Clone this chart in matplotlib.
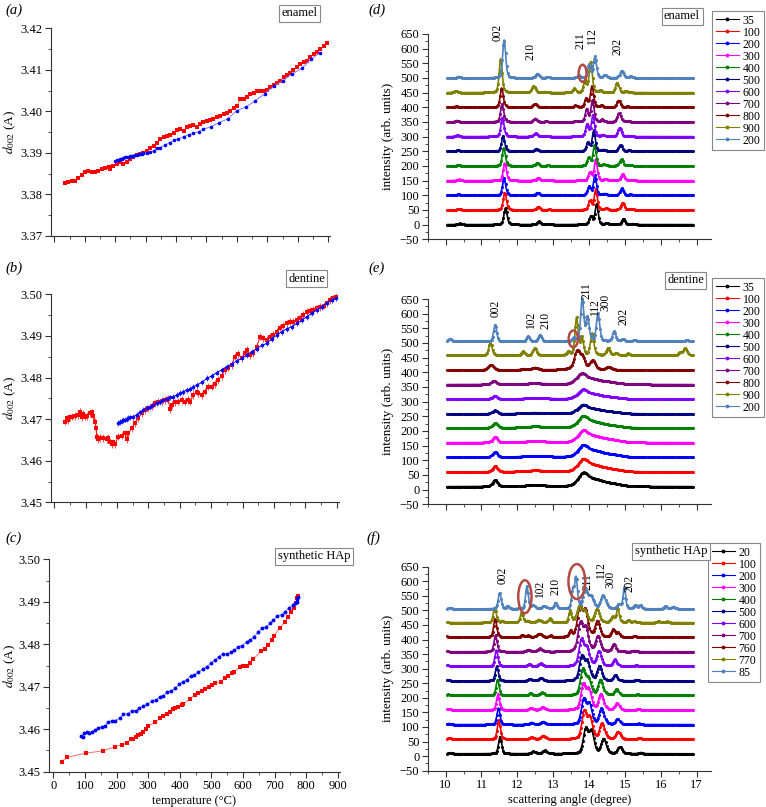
import numpy as np
import matplotlib
matplotlib.use('Agg')
import matplotlib.pyplot as plt
from matplotlib.patches import Ellipse
from matplotlib.lines import Line2D
from matplotlib.ticker import MultipleLocator, NullFormatter

plt.rcParams['font.family'] = ['Liberation Serif', 'DejaVu Serif']
plt.rcParams['mathtext.fontset'] = 'stix'

# ---------------- data: d002 vs temperature ----------------
a_red_T = [35,46,57,68,79,90,101,112,123,134,145,156,167,178,183,194,205,216,227,238,249,260,271,282,293,304,315,326,337,348,
           359,370,381,392,403,414,425,436,446,457,468,479,490,501,512,523,534,545,556,567,578,589,600,611,622,633,644,655,666,677,
           688,699,710,721,732,743,754,764,775,786,797,808,819,830,841,852,863,874,885,896]
a_red_d = [3.3828,3.3831,3.3832,3.3833,3.3840,3.3846,3.3853,3.3857,3.3855,3.3853,3.3857,3.3861,3.3863,3.3865,3.3861,
           3.3869,3.3873,3.3877,3.3873,3.3879,3.3885,3.3889,3.3895,3.3897,3.3901,3.3905,3.3911,3.3917,3.3923,3.3933,
           3.3939,3.3941,3.3944,3.3947,3.3954,3.3957,3.3953,3.3962,3.3965,3.3967,3.3963,3.3970,3.3975,3.3978,3.3979,
           3.3981,3.3986,3.3989,3.3994,3.3997,3.4002,3.4007,3.4013,3.4029,3.4031,3.4034,3.4042,3.4045,3.4048,3.4050,
           3.4048,3.4051,3.4058,3.4064,3.4069,3.4074,3.4082,3.4088,3.4093,3.4100,3.4108,3.4114,3.4120,3.4122,3.4130,
           3.4138,3.4144,3.4149,3.4157,3.4165]
a_blue_T = [200,205,211,216,222,227,233,238,244,249,255,260,266,271,277,282,288,293,304,315,326,337,348,364,379,392,408,425,
            441,457,474,490,514,542,570,600,631,660,691,721,750,781,814,843,872]
a_blue_d = [3.3881,3.3883,3.3884,3.3885,3.3886,3.3888,3.3889,3.3890,3.3891,3.3892,3.3893,3.3893,3.3894,3.3896,3.3897,
            3.3897,3.3898,3.3899,3.3901,3.3902,3.3905,3.3913,3.3913,3.3919,3.3925,3.3930,3.3934,3.3939,3.3944,3.3947,
            3.3951,3.3957,3.3963,3.3973,3.3982,3.4002,3.4011,3.4026,3.4042,3.4060,3.4073,3.4090,3.4104,3.4125,3.4141]

b_red_T = [34,39,45,50,55,66,77,82,87,92,98,103,114,119,124,130,133,135,140,146,156,167,172,177,183,188,193,204,215,225,
           231,236,247,257,268,278,289,300,310,321,332,342,353,363,369,374,385,395,406,417,427,433,443,454,459,470,480,491,
           502,512,523,533,544,555,565,576,587,597,608,613,624,634,645,656,666,677,688,698,709,719,730,741,751,762,773,783,
           794,804,815,826,836,847,858,868,879,889,898]
b_red_d = [3.4694,3.4702,3.4698,3.4704,3.4706,3.4708,3.4710,3.4718,3.4704,3.4712,3.4706,3.4708,3.4714,3.4716,3.4708,
           3.4694,3.4678,3.4658,3.4652,3.4655,3.4655,3.4652,3.4654,3.4646,3.4639,3.4644,3.4639,3.4658,3.4660,3.4666,
           3.4652,3.4666,3.4678,3.4690,3.4702,3.4714,3.4722,3.4726,3.4732,3.4738,3.4742,3.4744,3.4746,3.4748,3.4724,
           3.4734,3.4740,3.4742,3.4746,3.4742,3.4746,3.4742,3.4758,3.4766,3.4762,3.4758,3.4766,3.4778,3.4778,3.4784,
           3.4794,3.4804,3.4818,3.4824,3.4830,3.4850,3.4856,3.4846,3.4858,3.4866,3.4854,3.4858,3.4874,3.4898,3.4894,
           3.4890,3.4898,3.4902,3.4910,3.4920,3.4925,3.4930,3.4933,3.4934,3.4938,3.4942,3.4950,3.4958,3.4960,3.4962,
           3.4966,3.4970,3.4973,3.4978,3.4986,3.4990,3.4994]
b_blue_T = [204,209,215,220,225,231,236,241,252,262,273,284,294,305,316,326,337,348,358,369,379,390,401,411,422,433,443,
            454,470,486,502,518,533,549,565,581,597,613,629,645,661,677,693,709,725,741,757,773,789,804,820,836,852,868,884,898]
b_blue_d = [3.4690,3.4694,3.4696,3.4698,3.4699,3.4700,3.4702,3.4704,3.4706,3.4710,3.4716,3.4722,3.4726,3.4730,3.4734,
            3.4738,3.4742,3.4746,3.4748,3.4752,3.4754,3.4758,3.4762,3.4766,3.4770,3.4772,3.4778,3.4782,3.4788,3.4798,
            3.4804,3.4812,3.4818,3.4826,3.4832,3.4840,3.4846,3.4854,3.4862,3.4869,3.4877,3.4882,3.4893,3.4902,3.4910,
            3.4917,3.4922,3.4930,3.4938,3.4946,3.4954,3.4962,3.4970,3.4978,3.4986,3.4990]
b_red_err = 0.0009
b_blue_err = 0.0007

c_red_T = [26,44,105,158,195,216,234,245,253,262,269,276,285,293,301,322,338,348,359,369,378,385,396,406,411,432,448,459,
           469,480,491,501,512,530,543,554,564,573,591,601,612,622,633,656,670,680,691,698,717,733,744,751,760,768,772,775]
c_red_d = [3.4524,3.4534,3.4544,3.4549,3.4559,3.4563,3.4568,3.4576,3.4577,3.4582,3.4586,3.4589,3.4594,3.4600,3.4608,
           3.4616,3.4626,3.4632,3.4635,3.4641,3.4647,3.4649,3.4653,3.4657,3.4659,3.4671,3.4681,3.4685,3.4690,3.4695,
           3.4699,3.4703,3.4708,3.4712,3.4721,3.4726,3.4732,3.4735,3.4747,3.4750,3.4749,3.4755,3.4765,3.4783,3.4790,
           3.4798,3.4810,3.4820,3.4839,3.4853,3.4865,3.4877,3.4885,3.4896,3.4908,3.4914]
c_blue_T = [87,93,98,106,114,121,132,142,153,164,174,185,195,211,222,237,248,262,272,285,298,311,325,338,348,361,372,385,
            398,409,422,435,446,459,473,485,498,512,524,536,548,561,573,585,598,612,622,635,649,659,673,686,696,709,723,734,
            747,757,765,770,772,774]
c_blue_d = [3.4585,3.4582,3.4590,3.4593,3.4590,3.4594,3.4598,3.4602,3.4606,3.4608,3.4618,3.4619,3.4620,3.4627,3.4635,
            3.4637,3.4643,3.4644,3.4649,3.4655,3.4659,3.4666,3.4669,3.4677,3.4679,3.4687,3.4690,3.4696,3.4706,3.4712,
            3.4716,3.4726,3.4728,3.4734,3.4742,3.4747,3.4755,3.4763,3.4771,3.4778,3.4776,3.4781,3.4786,3.4794,3.4797,
            3.4806,3.4810,3.4818,3.4828,3.4838,3.4841,3.4849,3.4857,3.4867,3.4870,3.4877,3.4886,3.4892,3.4896,3.4900,
            3.4907,3.4912]

# ---------------- data: XRD patterns (peak tables) ----------------
curve_colors = ['#000000', '#ff0000', '#0000ff', '#ff00ff', '#008000', '#000080',
                '#8000ff', '#800080', '#800000', '#808000', '#4f81bd']

enamel_labels = ['35', '100', '200', '300', '400', '500', '600', '700', '800', '900', '200']
enamel_offsets = [0, 50, 100, 150, 200, 250, 300, 350, 400, 450, 500]
enamel_strain = [0, -0.16, -0.32, -0.16, -0.40, -0.56, -0.72, -0.80, -0.90, -1.15, -0.32]   # % peak shift
enamel_peak_pos = [10.40, 11.67, 12.60, 12.91, 13.75, 14.05, 14.21, 14.49, 14.96, 15.21]
enamel_peak_fwhm = [0.11, 0.10, 0.11, 0.11, 0.09, 0.10, 0.10, 0.10, 0.11, 0.11]
enamel_heights = [
    [4, 57, 11, 2, 0, 28, 70, 5, 20, 3],
    [4, 59, 11, 2, 0, 31, 70, 5, 25, 3],
    [4, 59, 9, 2, 0, 28, 68, 5, 23, 3],
    [4, 60, 10, 2, 0, 28, 72, 5, 23, 3],
    [4, 62, 10, 2, 0, 28, 72, 5, 23, 3],
    [4, 53, 9, 2, 0, 30, 70, 5, 22, 3],
    [5, 66, 12, 2, 0, 41, 72, 6, 30, 3],
    [5, 62, 12, 2, 3, 43, 74, 8, 31, 3],
    [4, 66, 12, 2, 6, 30, 72, 6, 23, 3],
    [6, 116, 23, 3, 14, 40, 105, 8, 34, 6],
    [5, 130, 15, 3, 8, 45, 72, 8, 25, 6],
]

dentine_labels = ['35', '100', '200', '300', '400', '500', '600', '700', '800', '900', '200']
dentine_offsets = [10, 60, 110, 160, 210, 258, 308, 358, 408, 458, 505]
dentine_strain = [0, 0, 0, 0, 0, -0.05, -0.05, -0.3, -1.05, -1.15, 0]
dentine_width_scale = [1, 1, 1, 1, 1, 1, 1, 1, 1.6, 1, 1]
dentine_peak_pos = [10.12, 11.38, 11.38, 12.30, 12.63, 12.50, 13.58, 13.81, 13.96, 14.25, 14.70,
                    13.84, 14.20, 14.65, 14.94, 15.27, 16.73, 16.88]
dentine_peak_fwhm = [0.10, 0.10, 0.16, 0.10, 0.11, 0.80, 0.10, 0.10, 0.10, 0.11, 0.11,
                     0.35, 0.50, 0.60, 0.10, 0.10, 0.10, 0.12]
dentine_heights = [
    [0, 0, 23, 0, 0, 5, 0, 0, 0, 0, 0, 43, 19, 9, 0, 0, 0, 0],
    [0, 0, 20, 0, 0, 5, 0, 0, 0, 0, 0, 40, 18, 8, 0, 0, 0, 0],
    [0, 0, 18, 0, 0, 5, 0, 0, 0, 0, 0, 38, 17, 8, 0, 0, 0, 0],
    [0, 0, 20, 0, 0, 5, 0, 0, 0, 0, 0, 38, 17, 8, 0, 0, 0, 0],
    [0, 0, 17, 0, 0, 5, 0, 0, 0, 0, 0, 37, 16, 7, 0, 0, 0, 0],
    [0, 0, 12, 0, 0, 4, 0, 0, 0, 0, 0, 28, 13, 6, 0, 0, 0, 0],
    [0, 0, 12, 0, 0, 4, 0, 0, 0, 0, 0, 30, 13, 6, 0, 0, 0, 0],
    [0, 0, 13, 0, 0, 4, 0, 0, 0, 0, 0, 35, 14, 7, 0, 0, 0, 0],
    [0, 17, 0, 4, 8, 0, 0, 55, 36, 30, 10, 8, 0, 0, 0, 0, 0, 0],
    [0, 45, 0, 14, 25, 0, 12, 127, 60, 75, 25, 0, 0, 0, 8, 6, 10, 25],
    [10, 57, 0, 18, 23, 0, 12, 145, 80, 94, 34, 0, 0, 0, 8, 6, 6, 0],
]

syn_labels = ['20', '100', '200', '300', '400', '500', '600', '700', '760', '770', '85']
syn_offsets = [8, 58, 108, 158, 208, 258, 308, 358, 408, 458, 505]
syn_strain = [0, -0.3, -0.4, -0.5, -0.6, -0.8, -0.9, -1.1, -1.2, -1.3, -0.1]
syn_peak_pos = [10.14, 11.52, 11.74, 12.28, 12.45, 12.77, 13.08, 13.56, 13.65, 13.91, 14.07, 14.41,
                14.86, 15.00, 15.30, 15.45, 16.15, 16.38]
syn_peak_fwhm = [0.10, 0.10, 0.08, 0.09, 0.12, 0.15, 0.09, 0.08, 0.09, 0.16, 0.16, 0.16,
                 0.13, 0.08, 0.10, 0.10, 0.10, 0.10]
syn_heights = [
    [4, 59, 0, 0, 8, 11, 0, 0, 0, 82, 73, 50, 23, 0, 0, 4, 0, 0],
    [4, 66, 0, 0, 7, 12, 0, 0, 0, 92, 69, 54, 25, 0, 0, 4, 0, 0],
    [4, 57, 0, 0, 7, 10, 0, 0, 0, 84, 66, 54, 19, 0, 0, 4, 0, 0],
    [4, 54, 0, 0, 7, 10, 0, 0, 0, 85, 65, 54, 23, 0, 0, 4, 0, 0],
    [4, 55, 0, 0, 7, 10, 0, 0, 0, 87, 55, 53, 21, 0, 0, 4, 0, 0],
    [4, 50, 0, 0, 7, 10, 0, 0, 0, 82, 62, 50, 19, 0, 0, 4, 0, 0],
    [4, 56, 0, 0, 7, 10, 0, 0, 0, 88, 60, 51, 23, 0, 0, 4, 0, 0],
    [4, 57, 0, 0, 7, 11, 0, 0, 0, 95, 78, 53, 26, 0, 0, 4, 0, 0],
    [4, 63, 0, 8, 6, 12, 5, 0, 20, 97, 86, 54, 26, 15, 0, 4, 0, 0],
    [4, 51, 6, 37, 6, 10, 14, 0, 40, 54, 37, 46, 20, 50, 8, 4, 5, 4],
    [4, 55, 10, 78, 11, 10, 21, 60, 105, 61, 38, 46, 15, 75, 12, 12, 10, 8],
]

enamel_hkl = [('002', 11.46, 657), ('210', 12.38, 592), ('211', 13.77, 626), ('112', 14.09, 641), ('202', 14.80, 607)]
dentine_hkl = [('002', 11.40, 618), ('102', 12.37, 577), ('210', 12.79, 577), ('211', 13.94, 678),
               ('112', 14.16, 622), ('300', 14.46, 638), ('202', 14.96, 590)]
syn_hkl = [('002', 11.58, 621), ('102', 12.63, 573), ('210', 13.05, 581), ('211', 13.97, 599),
           ('112', 14.32, 638), ('300', 14.59, 606), ('202', 15.13, 593)]

enamel_circles = [(13.82, 516, 0.22, 58)]
dentine_circles = [(13.56, 514, 0.26, 57)]
syn_circles = [(12.21, 547, 0.37, 113), (13.66, 599, 0.47, 120)]

two_theta = np.arange(10.05, 16.90, 0.01)

# ---------------- figure ----------------
W, H = 766, 807
fig = plt.figure(figsize=(W / 100, H / 100), dpi=100)


def add_axes(left, top, right, bottom):
    return fig.add_axes([left / W, 1 - bottom / H, (right - left) / W, (bottom - top) / H])


def style(ax, xmaj, xmin, ymaj, ymin, xlabels):
    for s in ('top', 'right'):
        ax.spines[s].set_visible(False)
    for s in ('left', 'bottom'):
        ax.spines[s].set_linewidth(0.8)
        ax.spines[s].set_color('#333333')
    ax.xaxis.set_major_locator(MultipleLocator(xmaj))
    ax.xaxis.set_minor_locator(MultipleLocator(xmin))
    ax.yaxis.set_major_locator(MultipleLocator(ymaj))
    ax.yaxis.set_minor_locator(MultipleLocator(ymin))
    ax.tick_params(which='major', direction='out', length=4, width=0.8, labelsize=9, color='#333333', pad=2)
    ax.tick_params(which='minor', direction='out', length=2, width=0.6, color='#333333')
    if not xlabels:
        ax.xaxis.set_major_formatter(NullFormatter())


axA = add_axes(51, 28.3, 330, 236)
axB = add_axes(50.7, 294.3, 339.2, 502.3)
axC = add_axes(49, 559.3, 340, 771.7)
axA.set_xlim(-11, 906); axA.set_ylim(3.37, 3.42)
axB.set_xlim(-11.5, 908); axB.set_ylim(3.45, 3.50)
axC.set_xlim(-13.6, 907); axC.set_ylim(3.45, 3.50)

for ax, last, lx in ((axA, False, -0.118), (axB, False, -0.113), (axC, True, -0.107)):
    style(ax, 100, 50, 0.01, 0.005, last)
    ax.yaxis.set_major_formatter(matplotlib.ticker.FormatStrFormatter('%.2f'))
    ax.set_ylabel(r'$d_{002}$ (A)', fontsize=9.5)
    ax.yaxis.set_label_coords(lx, 0.5)

axC.set_xlabel('temperature (°C)', fontsize=9, labelpad=2)

# (a)
axA.plot(a_red_T, a_red_d, '-', color='#ff6a6a', lw=0.7, zorder=2)
axA.plot(a_red_T, a_red_d, 's', color='#ff0000', ms=2.8, mew=0, zorder=3)
axA.plot(a_blue_T, a_blue_d, '-', color='#7a7aff', lw=0.7, zorder=4)
axA.plot(a_blue_T, a_blue_d, 'o', color='#0000ff', ms=2.6, mew=0, zorder=5)

# (b)
axB.errorbar(b_red_T, b_red_d, yerr=b_red_err, fmt='s-', color='#ff0000', ecolor='#ff5050',
             elinewidth=0.7, capsize=2, capthick=0.7, ms=2.8, mew=0, lw=0.7, zorder=2)
axB.errorbar(b_blue_T, b_blue_d, yerr=b_blue_err, fmt='o-', color='#0000ff', ecolor='#5a5aff',
             elinewidth=0.7, capsize=2, capthick=0.7, ms=2.6, mew=0, lw=0.7, zorder=3)

# (c)
axC.plot(c_red_T, c_red_d, '-', color='#ff6a6a', lw=0.7, zorder=2)
axC.plot(c_red_T, c_red_d, 's', color='#ff0000', ms=2.8, mew=0, zorder=3)
axC.plot(c_blue_T, c_blue_d, '-', color='#7a7aff', lw=0.7, zorder=4)
axC.plot(c_blue_T, c_blue_d, 'o', color='#0000ff', ms=2.8, mew=0, zorder=5)

# XRD panels
axD = add_axes(427.7, 34, 711, 239.3)
axE = add_axes(427.7, 299, 711, 504.3)
axF = add_axes(427.7, 566.7, 711, 770.7)


def peak(x, c, h, fwhm):
    g = np.exp(-4 * np.log(2) * ((x - c) / fwhm) ** 2)
    lz = 1.0 / (1.0 + 4 * ((x - c) / fwhm) ** 2)
    return h * (0.6 * g + 0.4 * lz)


def draw_xrd(ax, offsets, strain, pos, fwhm, heights, labels, hkl, circles, wscale=None):
    handles = []
    for i, off in enumerate(offsets):
        y = np.zeros_like(two_theta)
        sc = 1.0 if wscale is None else wscale[i]
        for c, w, h in zip(pos, fwhm, heights[i]):
            if h:
                y += peak(two_theta, c * (1 + strain[i] / 100.0), h, w * sc)
        col = curve_colors[i]
        ax.plot(two_theta, off + y, '-', color=col, lw=1.2, marker='.', ms=2.4,
                markevery=3, clip_on=False, zorder=2 + i)
        handles.append(Line2D([], [], color=col, lw=0.8, marker='.', ms=3.5))
    for t, x, yv in hkl:
        ax.text(x, yv, t, rotation=90, ha='center', va='center', fontsize=8.3, clip_on=False, zorder=30)
    for (cx, cy, w, h) in circles:
        ax.add_patch(Ellipse((cx, cy), w, h, fill=False, ec='#b24a44', lw=1.8, zorder=40, clip_on=False))
    ax.set_xlim(9.5, 17.4)
    ax.set_ylim(-50, 650)
    ax.set_ylabel('intensity (arb. units)', fontsize=9.5)
    ax.yaxis.set_label_coords(-0.118, 0.5)
    return handles


hD = draw_xrd(axD, enamel_offsets, enamel_strain, enamel_peak_pos, enamel_peak_fwhm, enamel_heights,
              enamel_labels, enamel_hkl, enamel_circles)
hE = draw_xrd(axE, dentine_offsets, dentine_strain, dentine_peak_pos, dentine_peak_fwhm, dentine_heights,
              dentine_labels, dentine_hkl, dentine_circles, dentine_width_scale)
hF = draw_xrd(axF, syn_offsets, syn_strain, syn_peak_pos, syn_peak_fwhm, syn_heights,
              syn_labels, syn_hkl, syn_circles)

for ax, last in ((axD, False), (axE, False), (axF, True)):
    style(ax, 1, 0.5, 50, 25, last)
axF.set_xlabel('scattering angle (degree)', fontsize=9, labelpad=2)

for ax, hs, labs, top, left in ((axD, hD, enamel_labels, 11, 712), (axE, hE, dentine_labels, 278, 712),
                                (axF, hF, syn_labels, 543, 708)):
    leg = ax.legend(hs, labs, loc='upper left', bbox_to_anchor=(left / W, 1 - top / H),
                    bbox_transform=fig.transFigure, fontsize=8.5, frameon=True, fancybox=False,
                    edgecolor='#888888', framealpha=1, borderpad=0.3, labelspacing=0.0,
                    handlelength=2.0, handletextpad=0.3, borderaxespad=0, numpoints=1)
    leg.get_frame().set_linewidth(0.8)

# sample boxes
box = dict(boxstyle='square,pad=0.2', fc='white', ec='#888888', lw=0.8)
for txt, x, y in (('enamel', 299, 13), ('enamel', 682, 16), ('dentine', 306.5, 278.5),
                  ('dentine', 685.5, 280), ('synthetic HAp', 314, 556.5), ('synthetic HAp', 671, 551)):
    fig.text(x / W, 1 - y / H, txt, fontsize=9, ha='center', va='center', bbox=box)

# panel letters
for lab, x, y in (('a', 5, 10), ('d', 368, 10), ('b', 5, 268), ('e', 368, 268), ('c', 5, 538), ('f', 366, 538)):
    fig.text(x / W, 1 - y / H, '(' + lab + ')', fontsize=10.5, style='italic', ha='left', va='center')

fig.savefig('out.png', dpi=100)
